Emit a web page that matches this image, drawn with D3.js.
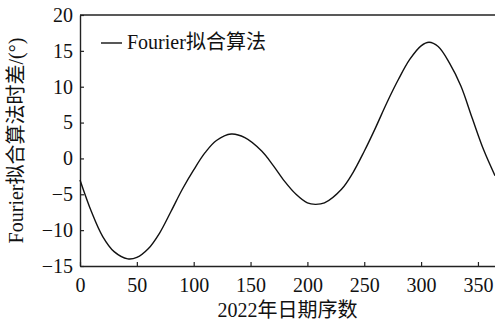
<!DOCTYPE html>
<html>
<head>
<meta charset="utf-8">
<script src="https://cdn.jsdelivr.net/npm/d3@7"></script>
<style>
  body { margin: 0; background: #fff; }
  text { font-family: "Liberation Serif", "Noto Sans CJK SC", serif; fill: #111; }
</style>
</head>
<body>
<div id="chart"></div>
<script>
// day of year and fitted time difference
var days = [0, 10, 20, 30, 42, 50, 60, 70, 80, 90, 100, 110, 120, 133, 145, 160, 170, 180, 190, 200, 207, 215, 230, 240, 250, 260, 270, 280, 290, 300, 307, 315, 325, 335, 345, 355, 365];
var diff = [-3.0, -7.4, -10.9, -13.0, -14.0, -13.8, -12.6, -10.4, -7.4, -4.3, -1.6, 0.8, 2.5, 3.4, 2.9, 1.0, -1.0, -3.2, -5.0, -6.2, -6.4, -6.2, -4.3, -2.0, 1.0, 4.3, 7.8, 11.0, 13.8, 15.7, 16.2, 15.6, 13.3, 10.1, 5.6, 1.2, -2.4];
var xTicks = [0, 50, 100, 150, 200, 250, 300, 350];
var yTicks = [-15, -10, -5, 0, 5, 10, 15, 20];

var margin = {top: 15, right: 0, bottom: 56, left: 80};
var W = 495, H = 322;
var width = W - margin.left - margin.right;
var height = H - margin.top - margin.bottom;

var xScale = d3.scaleLinear().domain([0, 365]).range([0, width]);
var yScale = d3.scaleLinear().domain([-15, 20]).range([height, 0]);

var svg = d3.select("#chart").append("svg")
    .attr("width", W)
    .attr("height", H)
    .append("g")
    .attr("transform", "translate(" + margin.left + "," + margin.top + ")");

// top border of the frame
svg.append("line").attr("x1", 0).attr("x2", width).attr("y1", 0).attr("y2", 0)
    .attr("stroke", "#222").attr("stroke-width", 1.4);

var xAxis = d3.axisBottom(xScale).tickValues(xTicks).tickSizeInner(-4).tickSizeOuter(0).tickPadding(12);
var yAxis = d3.axisLeft(yScale).tickValues(yTicks).tickSizeInner(-4).tickSizeOuter(0).tickPadding(7);

var gx = svg.append("g")
    .attr("transform", "translate(0," + height + ")")
    .call(xAxis);
var gy = svg.append("g").call(yAxis);

[gx, gy].forEach(function(g) {
  g.select(".domain").attr("stroke", "#222").attr("stroke-width", 1.4);
  g.selectAll(".tick line").attr("stroke", "#222").attr("stroke-width", 1.2);
  g.selectAll(".tick text")
    .style("font-family", "'Liberation Serif', serif")
    .style("font-size", "20px")
    .attr("fill", "#111");
});
gy.selectAll(".tick text").text(function(d) { return d < 0 ? "\u2212" + Math.abs(d) : d; });

// curve
var line = d3.line()
    .x(function(d, i) { return xScale(days[i]); })
    .y(function(d) { return yScale(d); })
    .curve(d3.curveCatmullRom.alpha(0.5));

svg.append("path")
    .datum(diff)
    .attr("fill", "none")
    .attr("stroke", "#111")
    .attr("stroke-width", 1.4)
    .attr("d", line);

// legend
svg.append("line")
    .attr("x1", 21).attr("x2", 42).attr("y1", 28).attr("y2", 28)
    .attr("stroke", "#111").attr("stroke-width", 1.4);
svg.append("text")
    .attr("x", 47).attr("y", 34)
    .style("font-size", "20px")
    .text("Fourier拟合算法");

// axis labels
svg.append("text")
    .attr("x", width / 2).attr("y", height + 51)
    .attr("text-anchor", "middle")
    .style("font-size", "20px")
    .text("2022年日期序数");

svg.append("text")
    .attr("transform", "translate(" + (-57) + "," + (height / 2) + ") rotate(-90)")
    .attr("text-anchor", "middle")
    .style("font-size", "20px")
    .text("Fourier拟合算法时差/(°)");
</script>
</body>
</html>
